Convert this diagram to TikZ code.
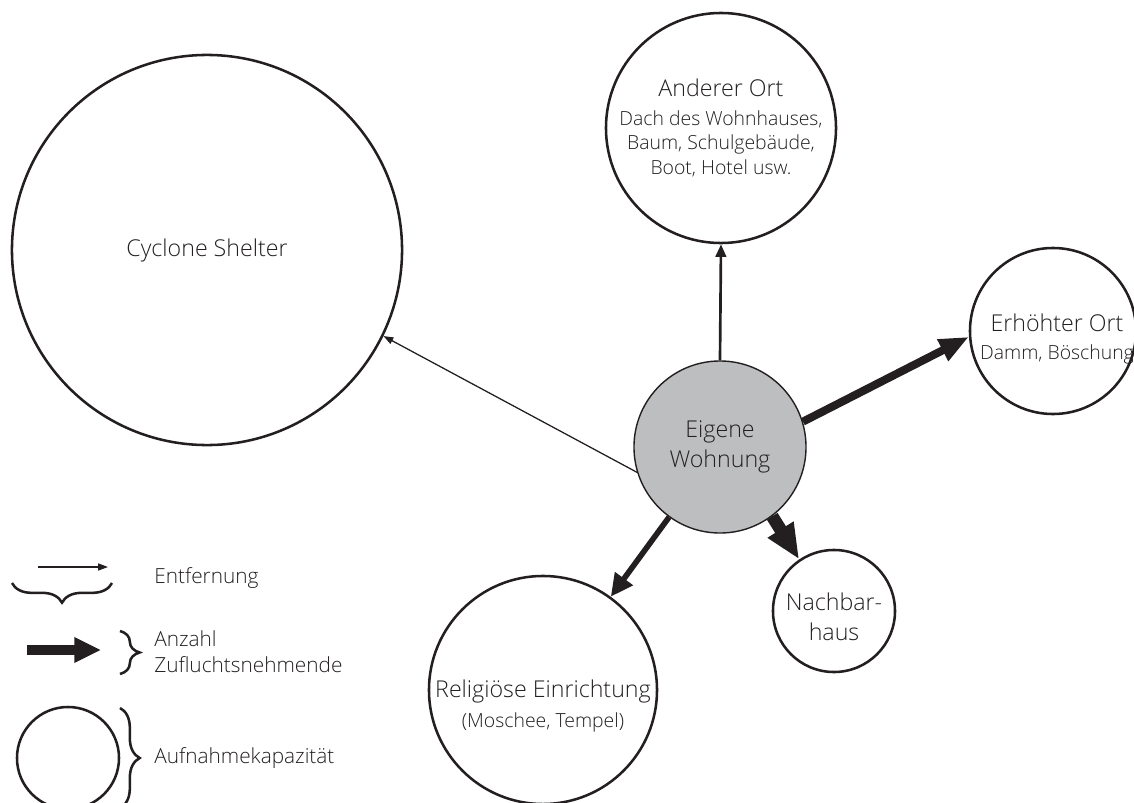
\documentclass[tikz,border=0pt]{standalone}
\usepackage{fontspec}
\setmainfont{Open Sans Light}
\usetikzlibrary{arrows.meta,decorations.pathreplacing}
\definecolor{ink}{HTML}{231F20}
\definecolor{homegray}{HTML}{BDBEC0}
\begin{document}
\begin{tikzpicture}[x=0.025cm,y=-0.025cm,
  ring/.style={circle,draw=ink,line width=1.8pt,inner sep=0pt,text=ink,align=center},
  txt/.style={text=ink,align=center,inner sep=0pt},
  bigfont/.style={font=\fontsize{16.5}{21}\selectfont},
  smallfont/.style={font=\fontsize{13.8}{17.4}\selectfont},
  legfont/.style={font=\fontsize{14.8}{17.8}\selectfont},
  flow/.style={draw=ink,fill=ink},
  brc/.style={draw=ink,line width=1.8pt,decorate,decoration={brace,amplitude=14pt}}]
\useasboundingbox (0,0) rectangle (1134,803);

% circles
\node[ring,minimum size=9.75cm,bigfont] (cs) at (207,250) {Cyclone Shelter};
\node[ring,minimum size=5.75cm,smallfont] (ao) at (721,128)
  {{\fontsize{16.5}{21}\selectfont Anderer Ort}\\[3pt]Dach des Wohnhauses,\\Baum, Schulgebäude,\\Boot, Hotel usw.};
\node[ring,minimum size=4.15cm] (eo) at (1053,331) {};
\node[txt,smallfont] (eot) at (1057,339) {{\fontsize{16.5}{21}\selectfont Erhöhter Ort}\\[2pt]Damm, Böschung};
\node[ring,minimum size=4.3cm,fill=homegray,line width=1pt,bigfont] (ew) at (720,447) {Eigene\\Wohnung};
\node[ring,minimum size=3.05cm] (nh) at (834,611) {};
\node[txt,bigfont] (nht) at (834,617) {Nachbar-\\haus};
\node[ring,minimum size=5.7cm] (re) at (543,690) {};
\node[txt,smallfont] (ret) at (543,706) {{\fontsize{16.5}{21}\selectfont Religiöse Einrichtung}\\[4pt](Moschee, Tempel)};

% connectors
\draw[flow,line width=0.9pt,-{Triangle[length=7pt,width=5pt]}] (ew.197) -- (cs.334);
\draw[flow,line width=1.9pt,-{Triangle[length=9pt,width=7.5pt]}] (ew.90) -- (ao.270);
\draw[flow,line width=4pt,-{Triangle[length=16pt,width=15pt]}] (ew.234) -- (re.54);
\draw[flow,line width=5.7pt,-{Triangle[length=21pt,width=16pt]}] (ew.17) -- (eo.184);
\draw[flow,line width=9pt,-{Triangle[length=25pt,width=20pt]}] (ew.307) -- (nh.124);

% legend
\coordinate (la1) at (38,567);
\coordinate (la2) at (108,567);
\draw[flow,line width=0.9pt,-{Triangle[length=7pt,width=5pt]}] (la1) -- (la2);
\coordinate (lb1) at (112,583);
\coordinate (lb2) at (12,583);
\draw[brc] (lb1) -- (lb2);
\node[txt,legfont,anchor=base west] (l1) at (154,583) {Entfernung};

\coordinate (lt1) at (27,650);
\coordinate (lt2) at (101,650);
\draw[flow,line width=7pt,-{Triangle[length=19pt,width=17pt]}] (lt1) -- (lt2);
\coordinate (lc1) at (120,631);
\coordinate (lc2) at (120,674);
\draw[brc] (lc1) -- (lc2);
\node[txt,legfont,anchor=base west,align=left] (l2) at (154,672) {Anzahl\\Zufluchtsnehmende};

\node[ring,minimum size=2.55cm] (lc) at (68,758) {};
\coordinate (ld1) at (120,708);
\coordinate (ld2) at (120,808);
\draw[brc] (ld1) -- (ld2);
\node[txt,legfont,anchor=base west] (l3) at (154,763) {Aufnahmekapazität};
\end{tikzpicture}
\end{document}
